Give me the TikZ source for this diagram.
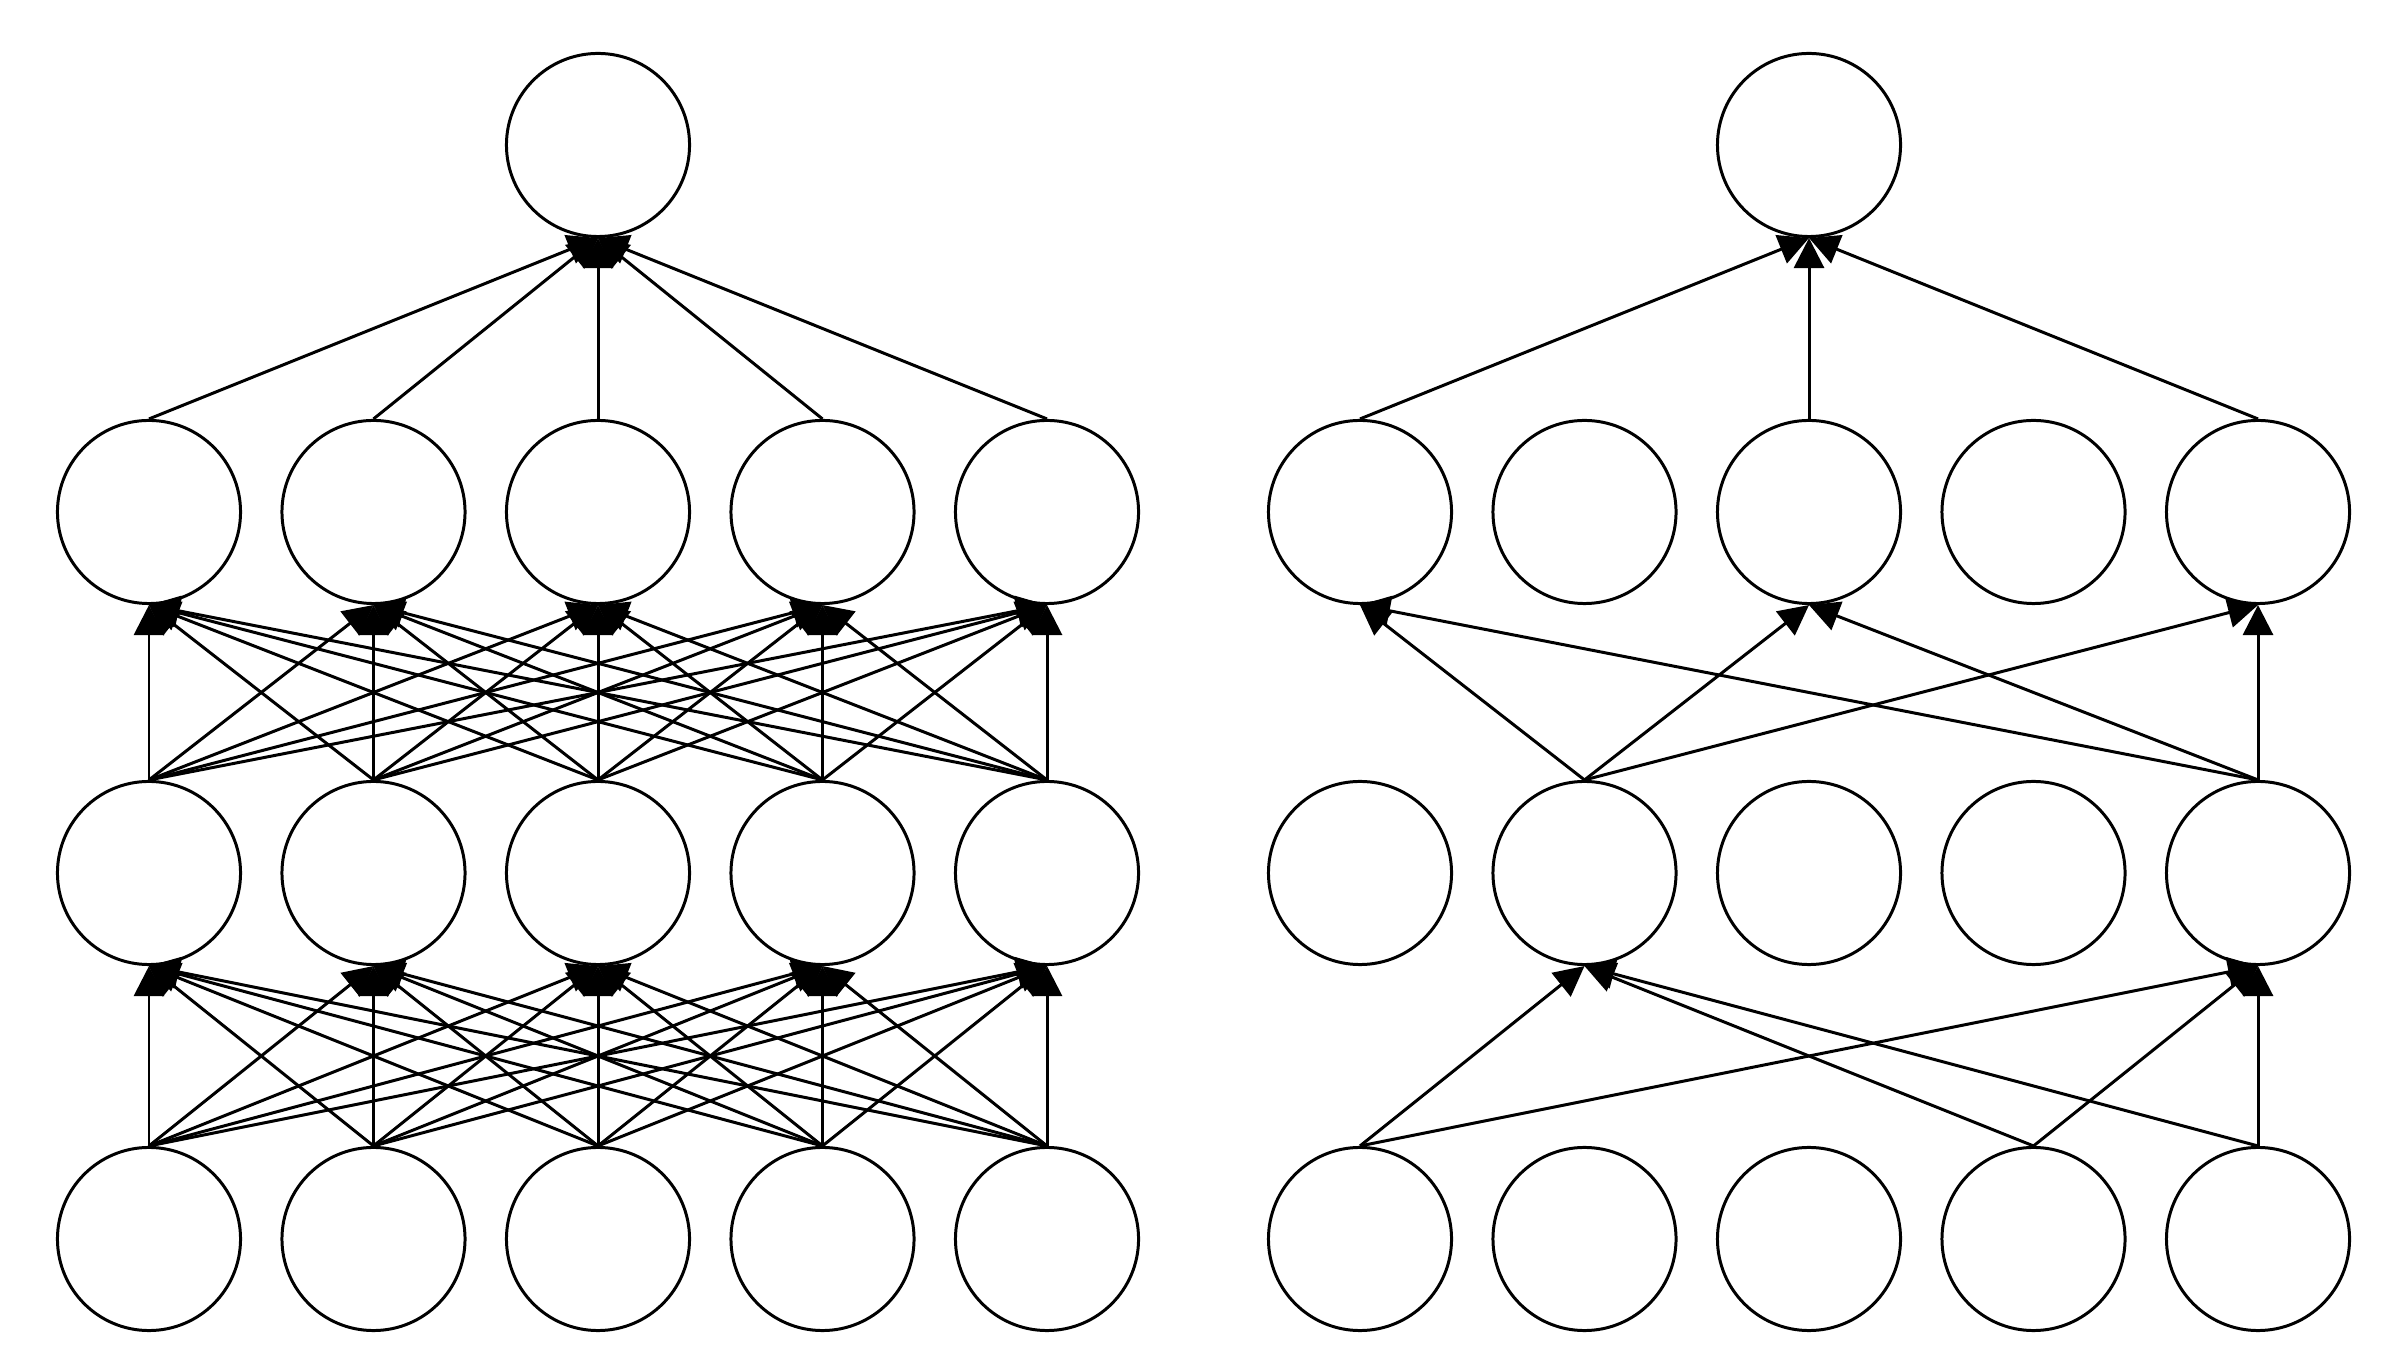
\documentclass[tikz,border=0pt]{standalone}
\usetikzlibrary{arrows.meta}
\begin{document}
\begin{tikzpicture}[x=0.01cm,y=-0.01cm]
\tikzset{
  neuron/.style={circle, draw=black, line width=0.85pt, minimum size=1.83cm, inner sep=0pt},
  conn/.style={line width=0.85pt, -{Triangle[length=0.3cm,width=0.3cm]}},
}
\useasboundingbox (0,0) rectangle (2397,1371);
% nodes for both panels
\foreach \p/\dx in {L/0,R/1211}{
  \node[neuron] (\p1c3) at (598+\dx,145) {};
  \foreach \c/\x in {1/149,2/373.5,3/598,4/822.5,5/1047}{
    \foreach \r/\y in {2/512,3/873,4/1239}{
      \node[neuron] (\p\r c\c) at (\x+\dx,\y) {};
    }
  }
}
% left panel: fully connected
\foreach \i in {1,...,5}{
  \foreach \j in {1,...,5}{
    \draw[conn] (L4c\i.north) -- (L3c\j.south);
    \draw[conn] (L3c\i.north) -- (L2c\j.south);
  }
  \draw[conn] (L2c\i.north) -- (L1c3.south);
}
% right panel: thinned network
\foreach \i in {1,3,5}{
  \draw[conn] (R2c\i.north) -- (R1c3.south);
}
\foreach \i in {2,5}{
  \foreach \j in {1,3,5}{
    \draw[conn] (R3c\i.north) -- (R2c\j.south);
  }
}
\foreach \i in {1,4,5}{
  \foreach \j in {2,5}{
    \draw[conn] (R4c\i.north) -- (R3c\j.south);
  }
}
\end{tikzpicture}
\end{document}
